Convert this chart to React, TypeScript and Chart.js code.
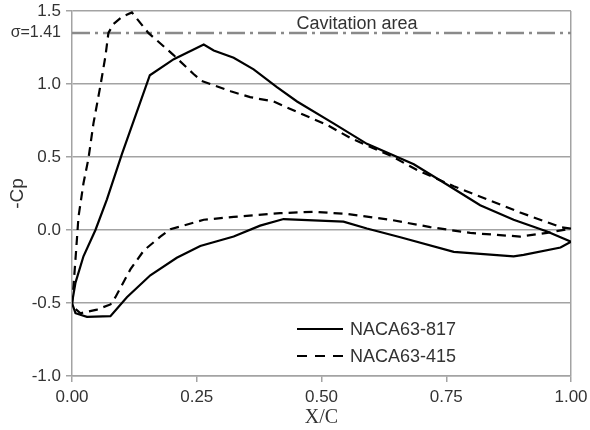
import { useEffect, useRef } from "react";
import { Chart, registerables } from "chart.js";

Chart.register(...registerables);

// ---- Data ----
const seriesNames = ["NACA63-817", "NACA63-415"];

const naca817UpperX = [0, 0.007, 0.023, 0.047, 0.07, 0.1, 0.156, 0.204, 0.264, 0.284, 0.324, 0.364, 0.41, 0.451, 0.524, 0.591, 0.685, 0.752, 0.818, 0.885, 0.952, 1.0];
const naca817UpperCp = [-0.5, -0.36, -0.18, 0, 0.21, 0.52, 1.06, 1.17, 1.27, 1.23, 1.18, 1.1, 0.98, 0.88, 0.73, 0.59, 0.45, 0.31, 0.17, 0.07, -0.01, -0.08];
const naca817LowerX = [0, 0.007, 0.03, 0.077, 0.11, 0.157, 0.21, 0.257, 0.324, 0.377, 0.424, 0.544, 0.591, 0.658, 0.765, 0.885, 0.905, 0.979, 1.0];
const naca817LowerCp = [-0.5, -0.57, -0.595, -0.59, -0.46, -0.31, -0.19, -0.11, -0.045, 0.03, 0.075, 0.057, 0.01, -0.05, -0.15, -0.18, -0.17, -0.12, -0.08];

const naca415UpperX = [0, 0.007, 0.013, 0.023, 0.033, 0.043, 0.057, 0.067, 0.073, 0.083, 0.1, 0.12, 0.153, 0.203, 0.243, 0.26, 0.318, 0.357, 0.404, 0.457, 0.511, 0.558, 0.604, 0.638, 0.692, 0.765, 0.832, 0.898, 0.979, 1.0];
const naca415UpperCp = [-0.52, -0.2, 0.09, 0.32, 0.49, 0.73, 0.99, 1.19, 1.35, 1.41, 1.46, 1.49, 1.35, 1.2, 1.07, 1.02, 0.95, 0.91, 0.88, 0.8, 0.72, 0.63, 0.56, 0.51, 0.41, 0.3, 0.21, 0.12, 0.02, 0.01];
const naca415LowerX = [0, 0.017, 0.05, 0.077, 0.087, 0.117, 0.144, 0.177, 0.197, 0.264, 0.324, 0.417, 0.484, 0.551, 0.638, 0.718, 0.798, 0.898, 0.952, 1.0];
const naca415LowerCp = [-0.52, -0.57, -0.545, -0.51, -0.46, -0.27, -0.14, -0.046, 0.005, 0.07, 0.09, 0.115, 0.125, 0.11, 0.07, 0.02, -0.02, -0.045, -0.02, 0.01];

const sigmaLineX = [0, 1];
const sigmaCp = 1.35;
const sigmaLabel = "σ=1.41";
const cavitationLabel = "Cavitation area";

const xTickValues = [0, 0.25, 0.5, 0.75, 1];
const yTickValues = [-1, -0.5, 0, 0.5, 1, 1.5];

// ---- Styling ----
const gridColor = "#a3a3a3";
const textColor = "#333333";
const sans = "'Liberation Sans', Arial, sans-serif";
const serif = "'Liberation Serif', 'Times New Roman', serif";

function outline(ux: number[], uy: number[], lx: number[], ly: number[]) {
  const pts: { x: number; y: number }[] = [];
  for (let i = ux.length - 1; i >= 0; i--) pts.push({ x: ux[i], y: uy[i] });
  for (let i = 0; i < lx.length; i++) pts.push({ x: lx[i], y: ly[i] });
  return pts;
}

const overlayPlugin = {
  id: "overlayText",
  afterDatasetsDraw(chart: any) {
    const { ctx, chartArea } = chart;
    ctx.save();
    // Cavitation area label
    ctx.fillStyle = textColor;
    ctx.font = `18px ${sans}`;
    ctx.textAlign = "center";
    ctx.textBaseline = "alphabetic";
    ctx.fillText(cavitationLabel, chartArea.left + 285, chartArea.top + 18);

    // Legend
    const sx0 = chartArea.right - 274;
    const sx1 = chartArea.right - 228;
    const tx = chartArea.right - 221;
    const rows = [chartArea.bottom - 47, chartArea.bottom - 20];
    ctx.strokeStyle = "#000";
    ctx.lineWidth = 2.2;
    rows.forEach((y, i) => {
      ctx.setLineDash(i === 0 ? [] : [10, 8]);
      ctx.beginPath();
      ctx.moveTo(sx0, y);
      ctx.lineTo(sx1, y);
      ctx.stroke();
      ctx.setLineDash([]);
      ctx.fillStyle = textColor;
      ctx.font = `18px ${sans}`;
      ctx.textAlign = "left";
      ctx.textBaseline = "middle";
      ctx.fillText(seriesNames[i], tx, y + 1);
    });
    ctx.restore();
  },
};

export default function App() {
  const canvasRef = useRef<HTMLCanvasElement | null>(null);

  useEffect(() => {
    if (!canvasRef.current) return;
    const chart = new Chart(canvasRef.current, {
      type: "scatter",
      data: {
        datasets: [
          {
            label: seriesNames[0],
            data: outline(naca817UpperX, naca817UpperCp, naca817LowerX, naca817LowerCp),
            showLine: true,
            borderColor: "#000",
            backgroundColor: "#000",
            borderWidth: 2.2,
            pointRadius: 0,
            tension: 0,
          },
          {
            label: seriesNames[1],
            data: outline(naca415UpperX, naca415UpperCp, naca415LowerX, naca415LowerCp),
            showLine: true,
            borderColor: "#000",
            backgroundColor: "#000",
            borderWidth: 2.2,
            borderDash: [9, 6],
            pointRadius: 0,
            tension: 0,
          },
          {
            label: sigmaLabel,
            data: sigmaLineX.map((x) => ({ x, y: sigmaCp })),
            showLine: true,
            borderColor: "#8a8a8a",
            borderWidth: 2.5,
            borderDash: [18, 5, 3, 5],
            pointRadius: 0,
          },
        ],
      },
      options: {
        animation: false,
        responsive: false,
        layout: { padding: { top: 11, right: 19, left: 0, bottom: 0 } },
        plugins: {
          legend: { display: false },
          tooltip: { enabled: false },
        },
        scales: {
          x: {
            type: "linear",
            min: 0,
            max: 1,
            afterBuildTicks: (s: any) => {
              s.ticks = xTickValues.map((v) => ({ value: v }));
            },
            afterFit: (s: any) => {
              s.height = 54;
              s.paddingLeft = 0;
              s.paddingRight = 0;
            },
            ticks: {
              autoSkip: false,
              maxRotation: 0,
              padding: 5,
              color: textColor,
              font: { family: sans, size: 17 },
              callback: (v: any) => Number(v).toFixed(2),
            },
            grid: {
              color: (c: any) => (c.tick && c.tick.value === 1 ? gridColor : "rgba(0,0,0,0)"),
              tickColor: gridColor,
              tickLength: 6,
              lineWidth: 1.5,
            },
            border: { color: gridColor, width: 1.5 },
            title: {
              display: true,
              text: "X/C",
              color: textColor,
              font: { family: serif, size: 20 },
              padding: { top: 0, bottom: 0 },
            },
          },
          y: {
            type: "linear",
            min: -1,
            max: 1.5,
            afterBuildTicks: (s: any) => {
              const vals = [...yTickValues, sigmaCp].sort((a, b) => a - b);
              s.ticks = vals.map((v) => ({ value: v }));
            },
            afterFit: (s: any) => {
              s.width = 72;
              s.paddingTop = 0;
              s.paddingBottom = 0;
            },
            ticks: {
              autoSkip: false,
              padding: 5,
              color: textColor,
              font: (c: any) => ({ family: sans, size: c.tick && c.tick.value === sigmaCp ? 16 : 17 }),
              callback: (v: any) => (Number(v) === sigmaCp ? sigmaLabel : Number(v).toFixed(1)),
            },
            grid: {
              color: (c: any) => (c.tick && c.tick.value === sigmaCp ? "rgba(0,0,0,0)" : gridColor),
              tickColor: (c: any) => (c.tick && c.tick.value === sigmaCp ? "rgba(0,0,0,0)" : gridColor),
              tickLength: 6,
              lineWidth: 1.5,
            },
            border: { color: gridColor, width: 1.5 },
            title: {
              display: true,
              text: "-Cp",
              color: textColor,
              font: { family: sans, size: 19 },
              padding: { top: 6, bottom: 0 },
            },
          },
        },
      } as any,
      plugins: [overlayPlugin],
    } as any);
    return () => chart.destroy();
  }, []);

  return (
    <div style={{ position: "absolute", left: 0, top: 0, width: 590, height: 430, background: "#fff" }}>
      <canvas ref={canvasRef} width={590} height={430} style={{ width: 590, height: 430, display: "block" }} />
    </div>
  );
}
